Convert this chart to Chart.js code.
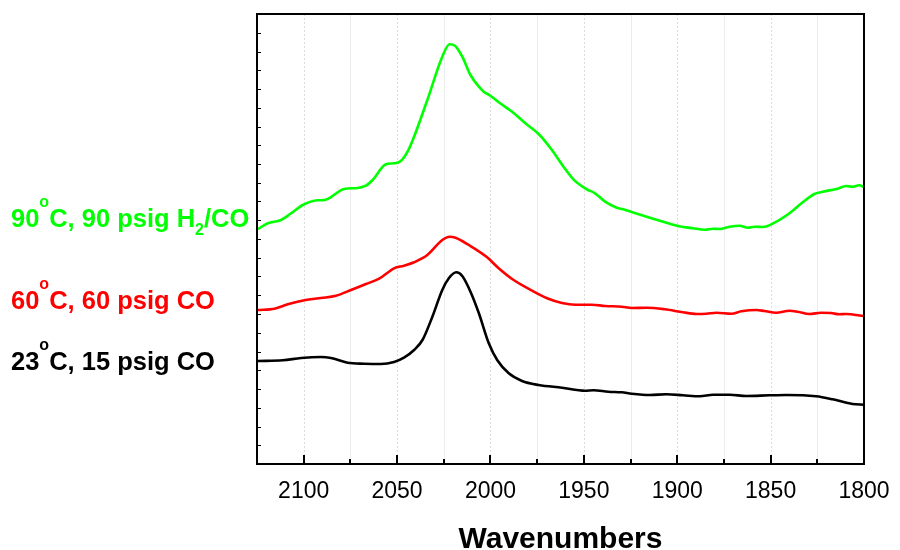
<!DOCTYPE html>
<html>
<head>
<meta charset="utf-8">
<script src="https://cdn.jsdelivr.net/npm/chart.js@4.4.1/dist/chart.umd.min.js"></script>
<style>
  html, body { margin: 0; padding: 0; background: #ffffff; }
  #wrap { width: 900px; height: 550px; position: relative; }
</style>
</head>
<body>
<div id="wrap"><canvas id="c" width="900" height="550"></canvas></div>
<script>
// IR spectra of adsorbed CO, stacked (arbitrary units)
const h2coWavenumber = [2124.5, 2119.2, 2112.1, 2106.7, 2100.5, 2092.5, 2088.9, 2078.3, 2071.1, 2066.7,
  2063.1, 2056.0, 2051.6, 2048.0, 2044.4, 2040.9, 2033.8, 2025.8, 2021.9, 2019.0,
  2015.1, 2010.7, 2006.2, 2003.6, 2000.0, 1995.6, 1988.4, 1981.3, 1974.2, 1967.1,
  1960.9, 1955.6, 1948.4, 1944.0, 1938.6, 1932.4, 1928.9, 1924.4, 1915.5, 1906.6,
  1899.5, 1891.5, 1885.3, 1880.8, 1877.3, 1871.9, 1866.6, 1862.2, 1858.6, 1854.2,
  1847.9, 1839.9, 1832.8, 1826.6, 1822.1, 1814.1, 1809.7, 1806.1, 1802.6, 1800.0];
const h2coSignal = [23.50, 24.07, 24.40, 25.07, 25.90, 26.37, 26.40, 27.50, 27.60, 27.83,
  28.40, 29.97, 30.07, 30.30, 31.23, 32.73, 36.40, 40.73, 41.97, 41.83,
  40.73, 38.90, 37.73, 37.23, 36.83, 36.17, 35.23, 34.07, 33.00, 31.40,
  29.73, 28.47, 27.47, 27.07, 26.23, 25.63, 25.47, 25.20, 24.67, 24.17,
  23.80, 23.57, 23.43, 23.53, 23.50, 23.73, 23.83, 23.63, 23.73, 23.70,
  24.13, 25.07, 26.17, 27.00, 27.23, 27.53, 27.80, 27.73, 27.87, 27.67];

const co60Wavenumber = [2124.5, 2115.6, 2108.5, 2099.6, 2090.7, 2082.7, 2074.7, 2066.7, 2059.6, 2051.6,
  2046.3, 2040.9, 2033.8, 2025.8, 2021.9, 2018.7, 2011.6, 2001.8, 1995.6, 1988.4,
  1977.7, 1969.7, 1961.7, 1954.6, 1945.7, 1938.6, 1929.7, 1924.4, 1916.4, 1906.6,
  1896.9, 1889.7, 1884.4, 1879.0, 1871.0, 1865.7, 1857.7, 1853.3, 1847.0, 1839.9,
  1835.5, 1829.2, 1823.0, 1817.7, 1813.2, 1809.7, 1800.0];
const co60Signal = [15.40, 15.53, 15.97, 16.37, 16.60, 16.83, 17.40, 18.00, 18.53, 19.57,
  19.83, 20.17, 20.90, 22.40, 22.73, 22.63, 21.90, 20.67, 19.57, 18.50,
  17.33, 16.57, 16.10, 15.93, 15.93, 15.80, 15.73, 15.60, 15.63, 15.47,
  15.17, 15.00, 15.03, 15.13, 15.03, 15.27, 15.40, 15.30, 15.13, 15.33,
  15.23, 15.00, 15.13, 15.10, 14.97, 15.00, 14.80];

const co23Wavenumber = [2124.5, 2111.2, 2101.4, 2090.7, 2085.4, 2076.5, 2067.6, 2058.7, 2051.6, 2046.3,
  2040.9, 2036.4, 2031.1, 2025.8, 2022.3, 2018.3, 2015.1, 2010.7, 2006.2, 2000.9,
  1996.4, 1990.2, 1983.1, 1974.2, 1961.7, 1949.3, 1944.9, 1936.9, 1929.7, 1924.4,
  1914.6, 1905.7, 1896.9, 1887.9, 1880.8, 1871.9, 1863.0, 1850.6, 1841.7, 1825.7,
  1816.8, 1806.1, 1800.0];
const co23Signal = [10.30, 10.37, 10.60, 10.70, 10.60, 10.13, 10.03, 10.00, 10.20, 10.63,
  11.40, 12.40, 14.73, 17.40, 18.57, 19.17, 18.80, 17.23, 15.07, 12.07,
  10.40, 9.07, 8.30, 7.90, 7.63, 7.33, 7.37, 7.23, 7.17, 7.03,
  6.90, 6.97, 6.87, 6.77, 6.93, 6.93, 6.80, 6.87, 6.90, 6.77,
  6.47, 6.00, 5.93];

const xTickLabels = [2100, 2050, 2000, 1950, 1900, 1850, 1800];
const axisTitle = 'Wavenumbers';

// Condition labels: [text, role] pieces; role '' = normal, 'sup' / 'sub' = raised / lowered
const labelGreen = [['90', ''], ['o', 'sup'], ['C, 90 psig H', ''], ['2', 'sub'], ['/CO', '']];
const labelRed = [['60', ''], ['o', 'sup'], ['C, 60 psig CO', '']];
const labelBlack = [['23', ''], ['o', 'sup'], ['C, 15 psig CO', '']];

const seriesColors = ['#00ff00', '#ff0000', '#000000'];

function toPoints(xs, ys) {
  return xs.map((x, i) => ({ x: x, y: ys[i] }));
}

const FONT = '"Liberation Sans", Arial, Helvetica, sans-serif';

const framePlugin = {
  id: 'frame',
  beforeDatasetsDraw(chart) {
    const { ctx, chartArea: a, scales: { x } } = chart;
    ctx.save();
    ctx.lineWidth = 1;
    x.ticks.forEach(t => {
      const v = t.value;
      const px = Math.round(x.getPixelForValue(v)) + 0.5;
      if (px <= a.left + 2 || px >= a.right - 2) return;
      if (v % 50 === 0) {
        ctx.strokeStyle = '#dcdcdc';
        ctx.setLineDash([2, 2]);
      } else {
        ctx.strokeStyle = '#ececec';
        ctx.setLineDash([]);
      }
      ctx.beginPath();
      ctx.moveTo(px, a.top);
      ctx.lineTo(px, a.bottom);
      ctx.stroke();
    });
    ctx.restore();
  },
  afterDatasetsDraw(chart) {
    const { ctx, chartArea: a, scales: { x, y } } = chart;
    ctx.save();
    ctx.strokeStyle = '#000';
    ctx.setLineDash([]);
    // inward tick marks on the bottom axis
    ctx.lineWidth = 2;
    x.ticks.forEach(t => {
      const px = Math.round(x.getPixelForValue(t.value));
      const len = t.value % 50 === 0 ? 9 : 5;
      ctx.beginPath();
      ctx.moveTo(px, a.bottom);
      ctx.lineTo(px, a.bottom - len);
      ctx.stroke();
    });
    // small inward tick marks on the left axis
    ctx.lineWidth = 1;
    y.ticks.forEach(t => {
      const py = Math.round(y.getPixelForValue(t.value)) + 0.5;
      ctx.beginPath();
      ctx.moveTo(a.left, py);
      ctx.lineTo(a.left + 4, py);
      ctx.stroke();
    });
    // frame
    ctx.lineWidth = 2;
    ctx.strokeRect(a.left, a.top, a.right - a.left, a.bottom - a.top);
    ctx.restore();
  },
  afterDraw(chart) {
    const ctx = chart.ctx;
    const drawRich = (parts, x0, baseline, color) => {
      let cx = x0;
      ctx.fillStyle = color;
      ctx.textBaseline = 'alphabetic';
      ctx.textAlign = 'left';
      parts.forEach(([txt, role]) => {
        let size = 25.5, dy = 0;
        if (role === 'sup') { size = 16; dy = -20; }
        if (role === 'sub') { size = 16; dy = 8; }
        ctx.font = 'bold ' + size + 'px ' + FONT;
        ctx.fillText(txt, cx, baseline + dy);
        cx += ctx.measureText(txt).width;
      });
    };
    ctx.save();
    drawRich(labelGreen, 11, 227, seriesColors[0]);
    drawRich(labelRed, 11, 309, seriesColors[1]);
    drawRich(labelBlack, 11, 370, seriesColors[2]);
    ctx.restore();
  }
};

const ds = (label, xs, ys, color) => ({
  label: label,
  data: toPoints(xs, ys),
  borderColor: color,
  backgroundColor: color,
  borderWidth: 2.6,
  pointRadius: 0,
  fill: false,
  cubicInterpolationMode: 'monotone'
});

new Chart(document.getElementById('c'), {
  type: 'line',
  data: {
    datasets: [
      ds('90 C, 90 psig H2/CO', h2coWavenumber, h2coSignal, seriesColors[0]),
      ds('60 C, 60 psig CO', co60Wavenumber, co60Signal, seriesColors[1]),
      ds('23 C, 15 psig CO', co23Wavenumber, co23Signal, seriesColors[2])
    ]
  },
  options: {
    responsive: false,
    animation: false,
    devicePixelRatio: 1,
    layout: { padding: { top: 14, right: 36, left: 0, bottom: 0 } },
    plugins: {
      legend: { display: false },
      tooltip: { enabled: false }
    },
    scales: {
      x: {
        type: 'linear',
        reverse: true,
        min: 1800,
        max: 2125,
        grid: { display: false, drawTicks: false },
        border: { display: false },
        ticks: {
          stepSize: 25,
          autoSkip: false,
          maxRotation: 0,
          color: '#000',
          padding: 14,
          font: { family: FONT, size: 23 },
          callback: v => xTickLabels.includes(v) ? String(v) : ''
        },
        title: {
          display: true,
          text: axisTitle,
          color: '#000',
          font: { family: FONT, size: 30, weight: 'bold' },
          padding: { top: 0, bottom: -8 }
        },
        afterFit: s => { s.height = 86; s.paddingLeft = 0; s.paddingRight = 0; }
      },
      y: {
        min: 0,
        max: 45,
        grid: { display: false, drawTicks: false },
        border: { display: false },
        ticks: { display: false, stepSize: 1.875 },
        afterFit: s => { s.width = 257; }
      }
    }
  },
  plugins: [framePlugin]
});
</script>
</body>
</html>
